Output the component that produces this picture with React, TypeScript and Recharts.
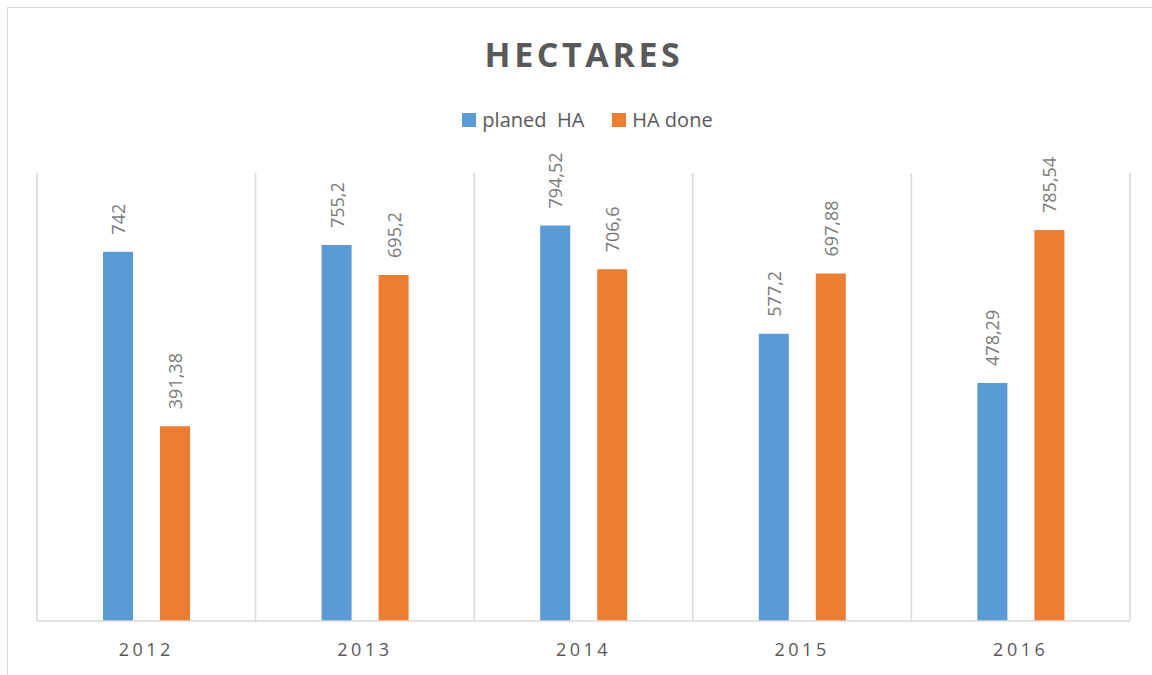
import { BarChart, Bar, XAxis, YAxis, CartesianGrid, LabelList } from 'recharts'

const years = ['2012', '2013', '2014', '2015', '2016']
const plannedHa = [742, 755.2, 794.52, 577.2, 478.29]
const haDone = [391.38, 695.2, 706.6, 697.88, 785.54]

const SERIES = [
  { key: 'planned', name: 'planed  HA', color: '#5B9BD5' },
  { key: 'done', name: 'HA done', color: '#ED7D31' },
]

const FONT = '"Open Sans", "DejaVu Sans", sans-serif'
const GRID = '#d9d9d9'

const data = years.map((year, i) => ({
  year,
  planned: plannedHa[i],
  done: haDone[i],
}))

// decimal comma like the source sheet
const fmt = (v: unknown) => String(v).replace('.', ',')

const renderLabel = (props: any) => {
  const { x, y, width, value } = props
  const cx = Number(x) + Number(width) / 2
  const ty = Number(y) - 17
  return (
    <text
      x={cx}
      y={ty}
      transform={`rotate(-90, ${cx}, ${ty})`}
      textAnchor="start"
      dominantBaseline="central"
      fill="#7a7a7a"
      fontSize={18}
      fontFamily={FONT}
    >
      {fmt(value)}
    </text>
  )
}

// grid lines sit on the category boundaries, not the centres
const boundaryLines = ({ offset }: any) =>
  Array.from({ length: years.length + 1 }, (_, i) => offset.left + (i * offset.width) / years.length)

export default function App() {
  return (
    <div
      style={{
        position: 'absolute',
        left: 0,
        top: 0,
        width: 1152,
        height: 675,
        overflow: 'hidden',
        background: '#fff',
        fontFamily: FONT,
      }}
    >
      <div
        style={{
          position: 'absolute',
          left: 7,
          top: 7,
          width: 1160,
          height: 700,
          border: `1px solid ${GRID}`,
        }}
      />
      <div
        style={{
          position: 'absolute',
          top: 31,
          left: 0,
          width: 1168,
          textAlign: 'center',
          fontSize: 34,
          fontWeight: 700,
          letterSpacing: 3.6,
          color: '#595959',
        }}
      >
        HECTARES
      </div>
      <div
        style={{
          position: 'absolute',
          top: 106,
          left: 0,
          width: 1175,
          display: 'flex',
          justifyContent: 'center',
          gap: 28,
          fontSize: 20,
          color: '#595959',
        }}
      >
        {SERIES.map((s) => (
          <span key={s.key} style={{ display: 'flex', alignItems: 'center', whiteSpace: 'pre' }}>
            <span style={{ width: 14, height: 14, background: s.color, marginRight: 6, display: 'inline-block' }} />
            {s.name}
          </span>
        ))}
      </div>
      <div style={{ position: 'absolute', left: 0, top: 0 }}>
        <BarChart
          width={1152}
          height={675}
          data={data}
          margin={{ top: 173, right: 22, left: 37, bottom: 24 }}
          barSize={30}
          barGap={27}
        >
          <CartesianGrid
            stroke={GRID}
            strokeWidth={1.5}
            horizontal={false}
            verticalCoordinatesGenerator={boundaryLines}
          />
          <XAxis
            dataKey="year"
            axisLine={{ stroke: GRID, strokeWidth: 1.5 }}
            tickLine={false}
            tickMargin={16}
            tick={{ fill: '#595959', fontSize: 18, fontFamily: FONT, letterSpacing: 3.5 }}
          />
          <YAxis hide domain={[0, 900]} />
          {SERIES.map((s) => (
            <Bar key={s.key} dataKey={s.key} name={s.name} fill={s.color} isAnimationActive={false}>
              <LabelList dataKey={s.key} content={renderLabel} />
            </Bar>
          ))}
        </BarChart>
      </div>
    </div>
  )
}
